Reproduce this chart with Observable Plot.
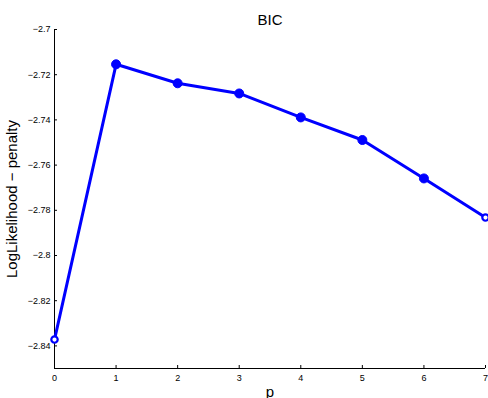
<!DOCTYPE html>
<html>
<head>
<meta charset="utf-8">
<script src="https://cdn.jsdelivr.net/npm/d3@7"></script>
<script src="https://cdn.jsdelivr.net/npm/@observablehq/plot@0.6"></script>
<style>
  html, body { margin: 0; padding: 0; background: #fff; }
  #chart svg { display: block; }
</style>
</head>
<body>
<div id="chart"></div>
<script>
const p = [0, 1, 2, 3, 4, 5, 6, 7];
const bic = [-2.8372, -2.7154, -2.7238, -2.7283, -2.7389, -2.7489, -2.7659, -2.7832];
const xTicks = [0, 1, 2, 3, 4, 5, 6, 7];
const yTicks = [-2.84, -2.82, -2.8, -2.78, -2.76, -2.74, -2.72, -2.7];
const xDomain = [0, 7];
const yDomain = [-2.85, -2.7];
const title = "BIC";
const xLabel = "p";
const yLabel = "LogLikelihood \u2212 penalty";

const data = p.map((v, i) => ({p: v, v: bic[i]}));
const isEdge = d => d.p === xDomain[0] || d.p === xDomain[1];
const fmt = d => String(d).replace("-", "\u2212");
const font = "'Liberation Sans', Arial, Helvetica, sans-serif";

const chart = Plot.plot({
  width: 488,
  height: 398,
  marginLeft: 54,
  marginRight: 3,
  marginTop: 29,
  marginBottom: 30,
  style: {fontFamily: font, background: "#fff", color: "#000"},
  x: {domain: xDomain},
  y: {domain: yDomain},
  marks: [
    Plot.axisX({ticks: xTicks, tickSize: 0, tickPadding: 6, fontSize: 9, tickFormat: fmt,
      label: xLabel, labelAnchor: "center", labelArrow: "none", labelOffset: 28}),
    Plot.axisY({ticks: yTicks, tickSize: 0, tickPadding: 4, fontSize: 9, tickFormat: fmt,
      label: yLabel, labelAnchor: "center", labelArrow: "none", labelOffset: 48}),
    Plot.ruleX(xTicks, {x: d => d, y1: yDomain[0], y2: yDomain[0], insetTop: 0, insetBottom: 3, stroke: "#000", strokeWidth: 1}),
    Plot.ruleY(yTicks, {y: d => d, x1: xDomain[0], x2: xDomain[0], insetLeft: 0, insetRight: -3, stroke: "#000", strokeWidth: 1}),
    Plot.ruleX([xDomain[0]], {y1: yDomain[0], y2: yDomain[1], stroke: "#000", strokeWidth: 1}),
    Plot.ruleY([yDomain[0]], {x1: xDomain[0], x2: xDomain[1], stroke: "#000", strokeWidth: 1}),
    Plot.line(data, {x: "p", y: "v", stroke: "#0000ff", strokeWidth: 3, clip: false}),
    Plot.dot(data.filter(d => !isEdge(d)), {x: "p", y: "v", r: 4.5, fill: "#0000ff", stroke: "#0000ff", strokeWidth: 1}),
    Plot.dot(data.filter(isEdge), {x: "p", y: "v", r: 3.2, fill: "#fff", stroke: "#0000ff", strokeWidth: 2.2}),
    Plot.text([title], {frameAnchor: "top", dy: -15, fontSize: 15, fill: "#000"})
  ]
});
chart.querySelectorAll("[aria-label='x-axis label'] text, [aria-label='y-axis label'] text").forEach(t => t.setAttribute("font-size", 15));
document.getElementById("chart").appendChild(chart);
</script>
</body>
</html>
